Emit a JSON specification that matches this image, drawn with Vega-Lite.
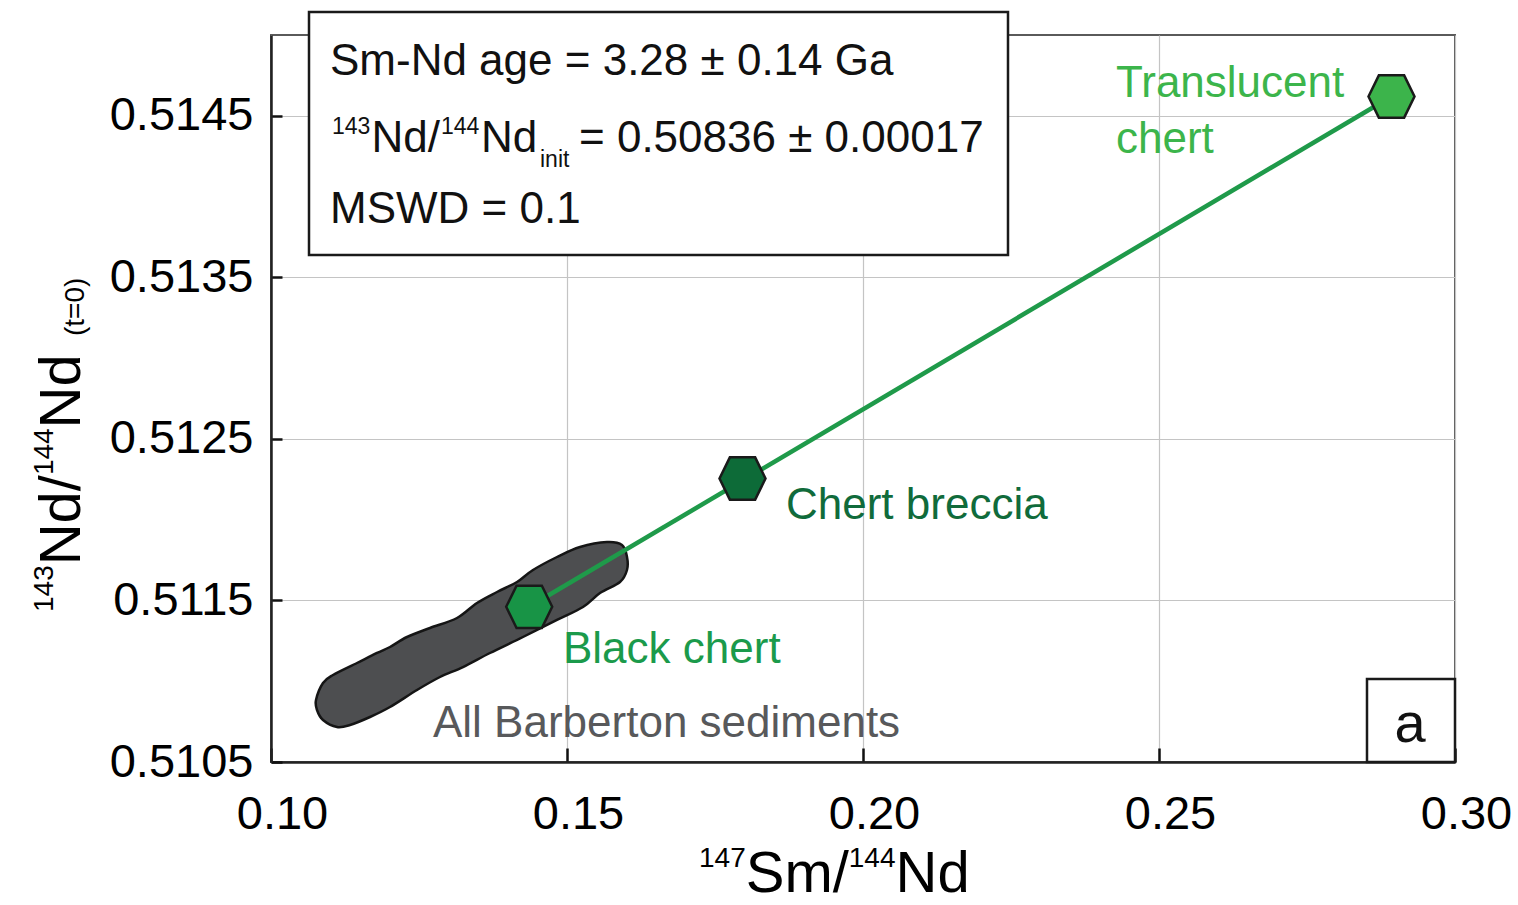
{
  "$schema": "https://vega.github.io/schema/vega-lite/v6.json",
  "width": 1184,
  "height": 727,
  "autosize": {"type": "none"},
  "padding": {"left": 271, "top": 35, "right": 63, "bottom": 143},
  "background": "white",
  "config": {
    "font": "Liberation Sans",
    "view": {"stroke": "#5a5a5a", "strokeWidth": 2},
    "text": {"font": "Liberation Sans"}
  },
  "encoding": {
    "x": {
      "field": "x", "type": "quantitative",
      "scale": {"domain": [0.1, 0.3], "nice": false, "zero": false},
      "axis": {
        "values": [0.1, 0.15, 0.2, 0.25, 0.3], "format": ".2f", "title": null,
        "grid": true, "gridColor": "#c4c4c4", "gridWidth": 1.2,
        "domainColor": "#222", "domainWidth": 2.5,
        "tickColor": "#111", "tickWidth": 2.5, "tickSize": -14,
        "labelFontSize": 47, "labelFont": "Liberation Sans", "labelColor": "#000",
        "labelPadding": 80, "labelBaseline": "alphabetic", "labelOffset": 11,
        "labelFlush": false, "labelOverlap": false
      }
    },
    "y": {
      "field": "y", "type": "quantitative",
      "scale": {"domain": [0.5105, 0.515], "nice": false, "zero": false},
      "axis": {
        "values": [0.5105, 0.5115, 0.5125, 0.5135, 0.5145], "format": ".4f", "title": null,
        "grid": true, "gridColor": "#c4c4c4", "gridWidth": 1.2,
        "domainColor": "#222", "domainWidth": 2.5,
        "tickColor": "#111", "tickWidth": 2.5, "tickSize": -11,
        "labelFontSize": 47, "labelFont": "Liberation Sans", "labelColor": "#000",
        "labelPadding": 29, "labelFlush": false, "labelOverlap": false
      }
    }
  },
  "layer": [
    {
      "data": {"values": [
        {"o": 1, "x": 0.107601, "y": 0.5108838},
        {"o": 2, "x": 0.108784, "y": 0.5109890},
        {"o": 3, "x": 0.110473, "y": 0.5110385},
        {"o": 4, "x": 0.114527, "y": 0.5111128},
        {"o": 5, "x": 0.117906, "y": 0.5111747},
        {"o": 6, "x": 0.120101, "y": 0.5112118},
        {"o": 7, "x": 0.122973, "y": 0.5112737},
        {"o": 8, "x": 0.126858, "y": 0.5113294},
        {"o": 9, "x": 0.131419, "y": 0.5113913},
        {"o": 10, "x": 0.134797, "y": 0.5114842},
        {"o": 11, "x": 0.138176, "y": 0.5115523},
        {"o": 12, "x": 0.141554, "y": 0.5116142},
        {"o": 13, "x": 0.144257, "y": 0.5116885},
        {"o": 14, "x": 0.148311, "y": 0.5117689},
        {"o": 15, "x": 0.152196, "y": 0.5118308},
        {"o": 16, "x": 0.156757, "y": 0.5118618},
        {"o": 17, "x": 0.159291, "y": 0.5118432},
        {"o": 18, "x": 0.160135, "y": 0.5117689},
        {"o": 19, "x": 0.160135, "y": 0.5116885},
        {"o": 20, "x": 0.158953, "y": 0.5116142},
        {"o": 21, "x": 0.155574, "y": 0.5115461},
        {"o": 22, "x": 0.152703, "y": 0.5114594},
        {"o": 23, "x": 0.148311, "y": 0.5113790},
        {"o": 24, "x": 0.142568, "y": 0.5112737},
        {"o": 25, "x": 0.136993, "y": 0.5111747},
        {"o": 26, "x": 0.132432, "y": 0.5110880},
        {"o": 27, "x": 0.128547, "y": 0.5110261},
        {"o": 28, "x": 0.124662, "y": 0.5109457},
        {"o": 29, "x": 0.120101, "y": 0.5108404},
        {"o": 30, "x": 0.116723, "y": 0.5107785},
        {"o": 31, "x": 0.113345, "y": 0.5107290},
        {"o": 32, "x": 0.111149, "y": 0.5107166},
        {"o": 33, "x": 0.108784, "y": 0.5107600},
        {"o": 34, "x": 0.107770, "y": 0.5108219}
      ]},
      "mark": {"type": "line", "interpolate": "cardinal-closed", "fill": "#4d4e50", "stroke": "#151515", "strokeWidth": 2.5},
      "encoding": {"order": {"field": "o", "type": "quantitative"}}
    },
    {
      "data": {"values": [
        {"x": 0.143615, "y": 0.5114607},
        {"x": 0.289274, "y": 0.5146193}
      ]},
      "mark": {"type": "line", "color": "#1f9a4a", "strokeWidth": 4.5},
      "encoding": {}
    },
    {
      "data": {"values": [
        {"name": "Black chert", "x": 0.143615, "y": 0.5114607},
        {"name": "Chert breccia", "x": 0.179645, "y": 0.5122548},
        {"name": "Translucent chert", "x": 0.289274, "y": 0.5146193}
      ]},
      "mark": {"type": "point", "shape": "M -1 0 L -0.55 -0.92 L 0.55 -0.92 L 1 0 L 0.55 0.92 L -0.55 0.92 Z", "size": 2116, "filled": true, "opacity": 1, "stroke": "#1a1a1a", "strokeWidth": 2.5},
      "encoding": {
        "color": {"field": "name", "type": "nominal", "legend": null,
          "scale": {"domain": ["Black chert", "Chert breccia", "Translucent chert"], "range": ["#189446", "#0d6b38", "#3cb44b"]}}
      }
    },
    {
      "data": {"values": [
        {"text": "Translucent", "x": 0.242736, "y": 0.5146162},
        {"text": "chert", "x": 0.242736, "y": 0.5142696}
      ]},
      "mark": {"type": "text", "align": "left", "baseline": "alphabetic", "fontSize": 44, "color": "#3cb54b"},
      "encoding": {"text": {"field": "text"}}
    },
    {
      "data": {"values": [{"text": "Chert breccia", "x": 0.186993, "y": 0.5120041}]},
      "mark": {"type": "text", "align": "left", "baseline": "alphabetic", "fontSize": 44, "color": "#106b3b"},
      "encoding": {"text": {"field": "text"}}
    },
    {
      "data": {"values": [{"text": "Black chert", "x": 0.149324, "y": 0.5111128}]},
      "mark": {"type": "text", "align": "left", "baseline": "alphabetic", "fontSize": 44, "color": "#1b9a4b"},
      "encoding": {"text": {"field": "text"}}
    },
    {
      "data": {"values": [{"text": "All Barberton sediments", "x": 0.127365, "y": 0.5106547}]},
      "mark": {"type": "text", "align": "left", "baseline": "alphabetic", "fontSize": 44, "color": "#58595b"},
      "encoding": {"text": {"field": "text"}}
    },
    {
      "data": {"values": [{"x": 0.106419, "x2": 0.224493, "y": 0.5136382, "y2": 0.5151423}]},
      "mark": {"type": "rect", "fill": "white", "stroke": "#1a1a1a", "strokeWidth": 2.5},
      "encoding": {"x2": {"field": "x2"}, "y2": {"field": "y2"}}
    },
    {
      "data": {"values": [
        {"text": "Sm-Nd age = 3.28 ± 0.14 Ga", "x": 0.109966, "y": 0.5147524},
        {"text": "Nd/", "x": 0.116959, "y": 0.5142758},
        {"text": "Nd", "x": 0.135473, "y": 0.5142758},
        {"text": "= 0.50836 ± 0.00017", "x": 0.152027, "y": 0.5142758},
        {"text": "MSWD = 0.1", "x": 0.109966, "y": 0.5138363}
      ]},
      "mark": {"type": "text", "align": "left", "baseline": "alphabetic", "fontSize": 44, "color": "#111"},
      "encoding": {"text": {"field": "text"}}
    },
    {
      "data": {"values": [
        {"text": "143", "x": 0.110304, "y": 0.5143903},
        {"text": "144", "x": 0.128716, "y": 0.5143903}
      ]},
      "mark": {"type": "text", "align": "left", "baseline": "alphabetic", "fontSize": 23, "color": "#111"},
      "encoding": {"text": {"field": "text"}}
    },
    {
      "data": {"values": [{"text": "init", "x": 0.145439, "y": 0.5141829}]},
      "mark": {"type": "text", "align": "left", "baseline": "alphabetic", "fontSize": 23, "color": "#111"},
      "encoding": {"text": {"field": "text"}}
    },
    {
      "data": {"values": [{"x": 0.285135, "x2": 0.3, "y": 0.5105, "y2": 0.5110138}]},
      "mark": {"type": "rect", "fill": "white", "stroke": "#1a1a1a", "strokeWidth": 2.5},
      "encoding": {"x2": {"field": "x2"}, "y2": {"field": "y2"}}
    },
    {
      "data": {"values": [{"text": "a", "x": 0.292399, "y": 0.5106238}]},
      "mark": {"type": "text", "align": "center", "baseline": "alphabetic", "fontSize": 56, "color": "#111"},
      "encoding": {"text": {"field": "text"}}
    },
    {
      "data": {"values": [
        {"text": "Sm/", "x": 0.180186, "y": 0.5096953},
        {"text": "Nd", "x": 0.205490, "y": 0.5096953}
      ]},
      "mark": {"type": "text", "align": "left", "baseline": "alphabetic", "fontSize": 58, "color": "#000"},
      "encoding": {"text": {"field": "text"}}
    },
    {
      "data": {"values": [
        {"text": "147", "x": 0.172297, "y": 0.5098501},
        {"text": "144", "x": 0.197601, "y": 0.5098501}
      ]},
      "mark": {"type": "text", "align": "left", "baseline": "alphabetic", "fontSize": 28, "color": "#000"},
      "encoding": {"text": {"field": "text"}}
    },
    {
      "data": {"values": [
        {"text": "Nd/", "x": 0.067736, "y": 0.5117175},
        {"text": "Nd", "x": 0.067736, "y": 0.5125649}
      ]},
      "mark": {"type": "text", "align": "left", "baseline": "alphabetic", "angle": 270, "fontSize": 58, "color": "#000"},
      "encoding": {"text": {"field": "text"}}
    },
    {
      "data": {"values": [
        {"text": "143", "x": 0.063176, "y": 0.5114285},
        {"text": "144", "x": 0.063176, "y": 0.5122758}
      ]},
      "mark": {"type": "text", "align": "left", "baseline": "alphabetic", "angle": 270, "fontSize": 28, "color": "#000"},
      "encoding": {"text": {"field": "text"}}
    },
    {
      "data": {"values": [{"text": "(t=0)", "x": 0.068412, "y": 0.5131369}]},
      "mark": {"type": "text", "align": "left", "baseline": "alphabetic", "angle": 270, "fontSize": 28, "color": "#000"},
      "encoding": {"text": {"field": "text"}}
    }
  ]
}
